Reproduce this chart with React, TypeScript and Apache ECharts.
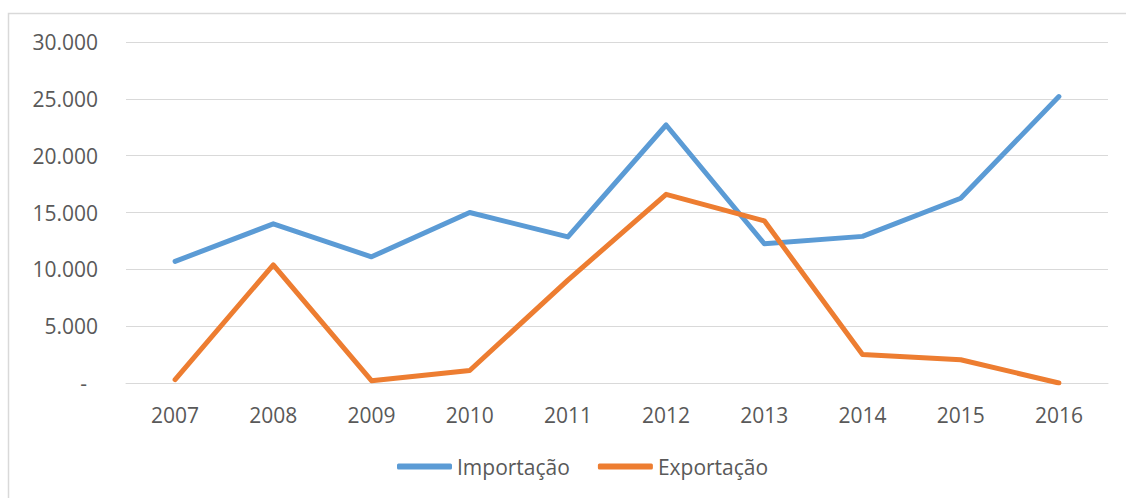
import React, { useEffect, useRef } from "react";
import * as echarts from "echarts";

const years = ["2007", "2008", "2009", "2010", "2011", "2012", "2013", "2014", "2015", "2016"];
const importacao = [10700, 14000, 11100, 15000, 12850, 22700, 12250, 12900, 16250, 25200];
const exportacao = [300, 10400, 200, 1100, 9050, 16600, 14270, 2500, 2050, 0];
const yTicks = [0, 5000, 10000, 15000, 20000, 25000, 30000];

const FONT = "'Open Sans', 'Liberation Sans', sans-serif";
const TEXT = "#595959";
const FS = 21;

function fmt(v: number): string {
  if (v === 0) return "{d|-}";
  return v.toLocaleString("de-DE").replace(/,/g, ".");
}

export default function App() {
  const ref = useRef<HTMLDivElement>(null);
  useEffect(() => {
    if (!ref.current) return;
    const chart = echarts.init(ref.current, undefined, { renderer: "svg" });
    chart.setOption({
      animation: false,
      backgroundColor: "#ffffff",
      graphic: [
        {
          type: "rect",
          shape: { x: 8.5, y: 13.5, width: 1130, height: 500 },
          style: { fill: "none", stroke: "#D9D9D9", lineWidth: 1.5 },
          silent: true,
        },
      ],
      grid: { left: 126, right: 18, top: 42, bottom: 115 },
      legend: {
        bottom: 16,
        left: 392,
        itemGap: 28,
        itemWidth: 55,
        itemHeight: 6,
        icon: "roundRect",
        textStyle: { color: TEXT, fontFamily: FONT, fontSize: FS },
        data: ["Importação", "Exportação"],
      },
      xAxis: {
        type: "category",
        data: years,
        boundaryGap: true,
        axisLine: { show: true, lineStyle: { color: "#D9D9D9", width: 1 } },
        axisTick: { show: false },
        axisLabel: { color: TEXT, fontFamily: FONT, fontSize: FS, margin: 21 },
        splitLine: { show: false },
      },
      yAxis: {
        type: "value",
        min: yTicks[0],
        max: yTicks[yTicks.length - 1],
        interval: 5000,
        axisLine: { show: false },
        axisTick: { show: false },
        axisLabel: {
          color: TEXT,
          fontFamily: FONT,
          fontSize: FS,
          margin: 28,
          formatter: (v: number) => fmt(v),
          rich: { d: { color: TEXT, fontFamily: FONT, fontSize: FS, padding: [0, 11, 0, 0] } },
        },
        splitLine: { show: true, lineStyle: { color: "#D9D9D9", width: 1 } },
      },
      series: [
        {
          name: "Importação",
          type: "line",
          data: importacao,
          symbol: "none",
          color: "#5B9BD5",
          lineStyle: { color: "#5B9BD5", width: 5, cap: "round", join: "round" },
        },
        {
          name: "Exportação",
          type: "line",
          data: exportacao,
          symbol: "none",
          color: "#ED7D31",
          lineStyle: { color: "#ED7D31", width: 5, cap: "round", join: "round" },
        },
      ],
    });
    return () => chart.dispose();
  }, []);
  return (
    <div
      ref={ref}
      style={{ position: "fixed", left: 0, top: 0, width: 1126, height: 498 }}
    />
  );
}
